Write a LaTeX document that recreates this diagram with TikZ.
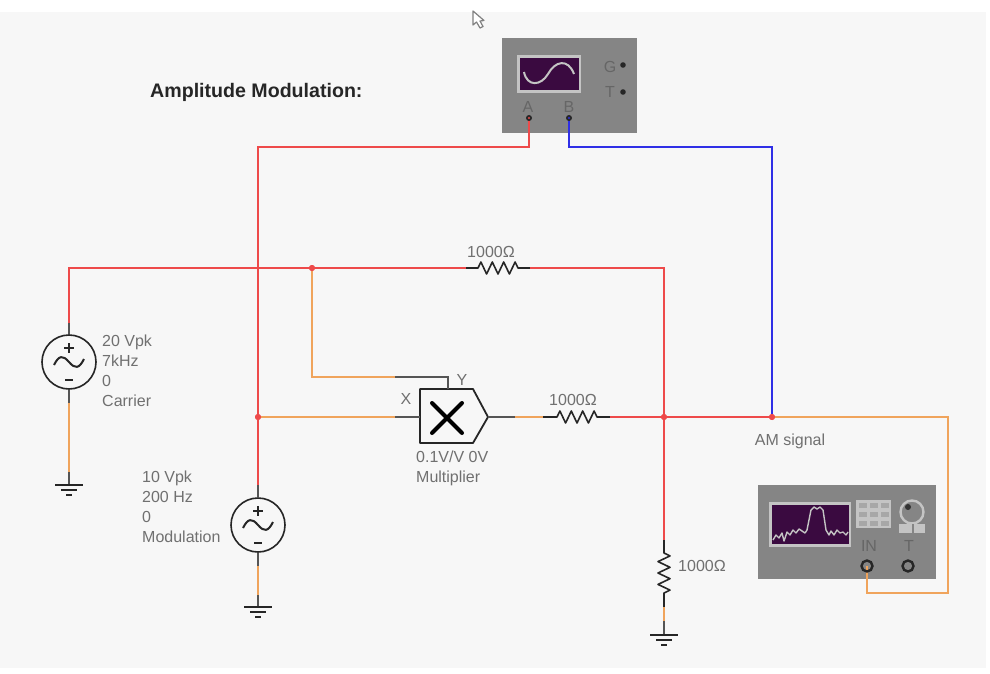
\documentclass[tikz,border=0pt]{standalone}
\usepackage{fontspec}
\setmainfont{Liberation Sans}
\definecolor{panelbg}{HTML}{F7F7F7}
\definecolor{wirered}{HTML}{EE4A4A}
\definecolor{wireorange}{HTML}{F0A45C}
\definecolor{wireblue}{HTML}{2F2FE6}
\definecolor{stubgray}{HTML}{555555}
\definecolor{labelgray}{HTML}{707070}
\definecolor{bodygray}{HTML}{858585}
\definecolor{bezelgray}{HTML}{C4C4C4}
\definecolor{screenpurple}{HTML}{3A0A40}
\tikzset{
    redwire/.style={wirered, line width=2pt},
    orangewire/.style={wireorange, line width=2pt},
    bluewire/.style={wireblue, line width=2pt},
    stub/.style={stubgray, line width=1.8pt},
    part/.style={black!85, line width=1.6pt, line join=round},
    junction/.style={circle, fill=wirered, inner sep=0pt, minimum size=6pt},
    acsource/.style={circle, draw=black!85, line width=1.6pt, inner sep=0pt, minimum size=54pt},
    lbl/.style={text=labelgray, font=\fontsize{16}{20}\selectfont, inner sep=0pt},
    trace/.style={bezelgray, line width=2pt, line join=round}
}
% one resistor body, 40 long
\newcommand{\zigh}{-- ++(2.9,-6) -- ++(5.7,12) -- ++(5.7,-12) -- ++(5.7,12) -- ++(5.7,-12) -- ++(5.7,12) -- ++(5.7,-12) -- ++(2.9,6)}
\newcommand{\zigv}{-- ++(6,2.9) -- ++(-12,5.7) -- ++(12,5.7) -- ++(-12,5.7) -- ++(12,5.7) -- ++(-12,5.7) -- ++(12,5.7) -- ++(-6,2.9)}
\begin{document}
\begin{tikzpicture}[x=1pt, y=-1pt]
    \useasboundingbox (0,0) rectangle (990,674);
    % background panel
    \fill[white] (0,0) rectangle (990,674);
    \fill[panelbg] (0,12) rectangle (986,668);
    % mouse cursor
    \draw[fill=white, draw=gray, line width=1.2pt, line join=round] (473,11) -- (473,25) -- (476.5,22) -- (480,28) -- (483,26.5) -- (480,21) -- (484,20.5) -- cycle;
    % title
    \node[anchor=west, inner sep=0pt, font=\fontsize{19.6}{22}\selectfont\bfseries, text=black!85] (title) at (150,92) {Amplitude Modulation:};

    % oscilloscope body and screen
    \fill[bodygray] (502,38) rectangle (637,133);
    \fill[bezelgray] (517,55) rectangle (581,93);
    \fill[screenpurple] (519.5,58) rectangle (578.5,90);
    \draw[trace] (524,72) .. controls (527,87) and (541,86) .. (548,74) .. controls (555,61) and (568,58) .. (574,74);
    \node[lbl, text=black!60] (scopeA) at (528,107) {A};
    \node[lbl, text=black!60] (scopeB) at (569,107) {B};
    \node[lbl, text=black!60] (scopeG) at (610,67) {G};
    \node[lbl, text=black!60] (scopeT) at (610,92) {T};
    \coordinate (pinA) at (529,118);
    \coordinate (pinB) at (569,118);
    \fill[black!85] (623,65) circle (2.8pt);
    \fill[black!85] (623,92) circle (2.8pt);

    % spectrum analyser body and screen
    \fill[bodygray] (758,485) rectangle (936,579);
    \fill[bezelgray] (769,502) rectangle (851,547);
    \fill[screenpurple] (772,505) rectangle (849,544);
    \draw[trace, line width=1.4pt] (773,540) -- (776,535) -- (779,538) -- (782,533) -- (784,541) -- (787,532) -- (790,535) -- (793,530) -- (796,533) -- (799,529) -- (802,531) -- (805,533) -- (807,530) -- (811,510) -- (814,507) -- (817,509) -- (820,507) -- (823,510) -- (826,530) -- (829,535) -- (831,531) -- (834,535) -- (837,530) -- (840,533) -- (843,532) -- (846,535) -- (848,532);
    % analyser buttons
    \fill[bezelgray] (856,500) rectangle (891,528);
    \foreach \col in {0,1,2}
        \foreach \row in {0,1,2}
            \fill[bezelgray!85!black] (858.5+11.2*\col,502.5+9*\row) rectangle ++(8,5.5);
    \draw[bezelgray, line width=2.4pt, fill=bodygray] (912,512) circle (11.5pt);
    \fill[black!80] (908,507) circle (3pt);
    \fill[bezelgray] (899,524) rectangle (925,533);
    \fill[bodygray] (911.5,524) rectangle (913.5,533);
    \node[lbl, text=black!60] (specIN) at (869,546) {IN};
    \node[lbl, text=black!60] (specT) at (909,546) {T};
    \coordinate (pinIN) at (867,566);
    \coordinate (pinT) at (908,566);

    % the two sources
    \node[acsource] (carrier) at (69,362) {};
    \node[acsource] (modulation) at (258,525) {};
    \foreach \src in {carrier, modulation} {
        \draw[part, line width=2pt] ([xshift=-5pt, yshift=14pt]\src.center) -- ++(10,0);
        \draw[part, line width=2pt] ([yshift=19pt]\src.center) -- ++(0,10);
        \draw[part, line width=2pt] ([xshift=-4pt, yshift=-18pt]\src.center) -- ++(8,0);
        \draw[part, line width=2pt] ([xshift=-15pt, yshift=-3pt]\src.center) .. controls +(5,-10) and +(-6,-7) .. (\src.center) .. controls +(6,7) and +(-5,10) .. ([xshift=15pt, yshift=3pt]\src.center);
    }
    \node[lbl, anchor=west, align=left] (carrierlabel) at (102,371) {20 Vpk\\7kHz\\0\\Carrier};
    \node[lbl, anchor=west, align=left] (modlabel) at (142,507) {10 Vpk\\200 Hz\\0\\Modulation};

    % multiplier
    \coordinate (mulNW) at (420,389);
    \coordinate (mulSW) at (420,443);
    \coordinate (mulNE) at (473,389);
    \coordinate (mulSE) at (473,443);
    \coordinate (mulout) at (488,417);
    \coordinate (mulX) at (420,417);
    \coordinate (mulY) at (448,389);
    \draw[part, line width=1.8pt, fill=panelbg] (mulNW) -- (mulNE) -- (mulout) -- (mulSE) -- (mulSW) -- cycle;
    \draw[black, line width=4pt, line cap=round] (432,403) -- (462,433);
    \draw[black, line width=4pt, line cap=round] (462,403) -- (432,433);
    \node[lbl] (xlabel) at (406,399) {X};
    \node[lbl] (ylabel) at (462,380) {Y};
    \node[lbl, anchor=west, align=left] (mullabel) at (416,468) {0.1V/V 0V\\Multiplier};

    % wire points
    \coordinate (scopeAdrop) at (529,147);
    \coordinate (scopeAcorner) at (258,147);
    \coordinate (scopeBdrop) at (569,147);
    \coordinate (scopeBcorner) at (772,147);
    \coordinate (railcorner) at (69,268);
    \coordinate (carrierred) at (69,323);
    \coordinate (railR) at (664,268);
    \coordinate (midred) at (258,485);
    \node[junction] (modnode) at (258,417) {};
    \node[junction] (ynode) at (312,268) {};
    \node[junction] (sumnode) at (664,417) {};
    \node[junction] (amnode) at (772,417) {};
    \node[lbl] (amlabel) at (790,441) {AM signal};

    % top resistor, with label
    \coordinate (topA) at (466,268);
    \coordinate (topB) at (478,268);
    \coordinate (topC) at (518,268);
    \coordinate (topD) at (530,268);
    \draw[part] (topA) -- (topB) \zigh -- (topD);
    \node[lbl] (toplabel) at (491,252) {1000Ω};
    % series resistor, with label
    \coordinate (serA) at (543,417);
    \coordinate (serB) at (557,417);
    \coordinate (serC) at (597,417);
    \coordinate (serD) at (610,417);
    \draw[part] (serA) -- (serB) \zigh -- (serD);
    \node[lbl] (serlabel) at (573,400) {1000Ω};
    % load resistor, with label
    \coordinate (loadA) at (664,540);
    \coordinate (loadB) at (664,553);
    \coordinate (loadC) at (664,593);
    \coordinate (loadD) at (664,607);
    \draw[part] (loadA) -- (loadB) \zigv -- (loadD);
    \node[lbl, anchor=west] (loadlabel) at (678,566) {1000Ω};

    % scope channels
    \draw[redwire] (pinA) -- (scopeAdrop) -- (scopeAcorner) -- (modnode) -- (midred);
    \draw[stub] (midred) -- (modulation.north);
    \draw[bluewire] (pinB) -- (scopeBdrop) -- (scopeBcorner) -- (amnode);
    % top rail
    \draw[stub] (carrier.north) -- (carrierred);
    \draw[redwire] (carrierred) -- (railcorner) -- (ynode) -- (topA);
    \draw[redwire] (topD) -- (railR) -- (sumnode) -- (loadA);
    % carrier to ground
    \coordinate (carrierO1) at (69,403);
    \coordinate (carrierO2) at (69,472);
    \coordinate (carriergnd) at (69,485);
    \draw[stub] (carrier.south) -- (carrierO1);
    \draw[orangewire] (carrierO1) -- (carrierO2);
    \draw[stub] (carrierO2) -- (carriergnd);
    % modulation to ground
    \coordinate (modO1) at (258,566);
    \coordinate (modO2) at (258,595);
    \coordinate (modgnd) at (258,607);
    \draw[stub] (modulation.south) -- (modO1);
    \draw[orangewire] (modO1) -- (modO2);
    \draw[stub] (modO2) -- (modgnd);
    % load to ground
    \coordinate (loadO) at (664,621);
    \coordinate (loadgnd) at (664,635);
    \draw[orangewire] (loadD) -- (loadO);
    \draw[stub] (loadO) -- (loadgnd);
    % multiplier X input
    \coordinate (xstub) at (395,417);
    \draw[orangewire] (modnode) -- (xstub);
    \draw[stub] (xstub) -- (mulX);
    % multiplier Y input
    \coordinate (ycorner) at (312,377);
    \coordinate (ystub) at (395,377);
    \coordinate (yabove) at (448,377);
    \draw[orangewire] (ynode) -- (ycorner) -- (ystub);
    \draw[stub] (ystub) -- (yabove) -- (mulY);
    % multiplier output
    \coordinate (outstub) at (515,417);
    \draw[stub] (mulout) -- (outstub);
    \draw[orangewire] (outstub) -- (serA);
    \draw[redwire] (serD) -- (sumnode) -- (amnode);
    % AM signal to the analyser
    \coordinate (amcornerA) at (948,417);
    \coordinate (amcornerB) at (948,593);
    \coordinate (amcornerC) at (867,593);
    \draw[orangewire] (amnode) -- (amcornerA) -- (amcornerB) -- (amcornerC) -- (pinIN);
    % junctions again, on top of the wires
    \foreach \dot in {modnode, ynode, sumnode, amnode}
        \fill[wirered] (\dot) circle (3pt);

    % terminals
    \foreach \pin in {pinA, pinB} {
        \fill[black!85] (\pin) circle (3pt);
    }
    \fill[wirered] (pinA) circle (1.2pt);
    \fill[wireblue] (pinB) circle (1.2pt);
    \foreach \pin in {pinIN, pinT}
        \draw[black!85, line width=2.4pt] (\pin) circle (5.5pt);

    % grounds
    \foreach \gnd in {carriergnd, modgnd, loadgnd} {
        \draw[part] ([xshift=-14pt]\gnd) -- ([xshift=14pt]\gnd);
        \draw[part] ([xshift=-8pt, yshift=-5pt]\gnd) -- ([xshift=8pt, yshift=-5pt]\gnd);
        \draw[part] ([xshift=-3pt, yshift=-10pt]\gnd) -- ([xshift=3pt, yshift=-10pt]\gnd);
    }
\end{tikzpicture}
\end{document}
